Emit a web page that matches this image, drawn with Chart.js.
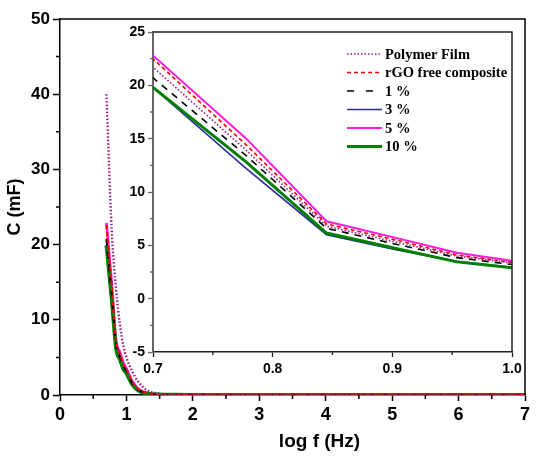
<!DOCTYPE html>
<html><head><meta charset="utf-8">
<script src="https://cdn.jsdelivr.net/npm/chart.js@4.4.1/dist/chart.umd.min.js"></script>
<style>
html,body{margin:0;padding:0;background:#fff;}
#wrap{position:relative;width:550px;height:460px;overflow:hidden;}
#main{position:absolute;left:0;top:0;}
#inset{position:absolute;left:120px;top:20px;}
</style></head><body>
<div id="wrap"><canvas id="main" width="550" height="460"></canvas><canvas id="inset" width="420" height="355"></canvas></div>
<script>
// ---- data ----
const logF = [0.699, 0.778, 0.845, 0.903, 0.954, 1.0, 1.079, 1.176, 1.301, 1.477, 1.699, 2, 3, 4, 5, 6, 7];
const polymerFilm      = [40, 22, 14, 9.3, 6.5, 5.0, 3.3, 1.8, 0.7, 0.2, 0.06, 0.03, 0.01, 0.01, 0.01, 0.01, 0.01];
const polymerFilmInset = [21.8, 13.9, 6.8, 5.3, 4.0, 3.35];
const rgoFree   = [22.6, 14.4, 7.0, 5.5, 4.1, 3.4, 1.9, 0.8, 0.3, 0.1, 0.05, 0.02, 0.01, 0.01, 0.01, 0.01, 0.01];
const pct1      = [20.8, 13.4, 6.6, 5.1, 3.85, 3.2, 1.7, 0.7, 0.25, 0.1, 0.04, 0.02, 0.01, 0.01, 0.01, 0.01, 0.01];
const pct3      = [19.9, 12.2, 6.0, 4.6, 3.5, 2.95, 1.5, 0.6, 0.2, 0.08, 0.04, 0.02, 0.01, 0.01, 0.01, 0.01, 0.01];
const pct5      = [22.9, 15.0, 7.26, 5.7, 4.3, 3.55, 2.0, 0.85, 0.3, 0.1, 0.05, 0.02, 0.01, 0.01, 0.01, 0.01, 0.01];
const pct10     = [19.9, 12.8, 6.15, 4.7, 3.45, 2.9, 1.5, 0.6, 0.2, 0.08, 0.04, 0.02, 0.01, 0.01, 0.01, 0.01, 0.01];
const seriesLabels = ['Polymer Film', 'rGO free composite', '1 %', '3 %', '5 %', '10 %'];

const mainXTicks = [0, 1, 2, 3, 4, 5, 6, 7];
const mainYTicks = [0, 10, 20, 30, 40, 50];
const mainXMinor = [0.5, 1.5, 2.5, 3.5, 4.5, 5.5, 6.5];
const mainYMinor = [5, 15, 25, 35, 45];
const insetXTicks = [0.7, 0.8, 0.9, 1.0];
const insetYTicks = [-5, 0, 5, 10, 15, 20, 25];
const insetXMinor = [0.75, 0.85, 0.95];
const insetYMinor = [-2.5, 2.5, 7.5, 12.5, 17.5, 22.5];
const insetCount = 6;

// ---- styles ----
const styles = [
  {color:'#9a1a80', dash:[1.5,2], w:1.6, wMain:2.4, order:0, legendDash:[1.5,2]},
  {color:'#ff0000', dash:[4,3],   w:1.6, wMain:2,   order:1, legendDash:[4,3]},
  {color:'#000000', dash:[7,6],   w:1.6, wMain:2,   order:2, legendDash:[7,12]},
  {color:'#2a2aa0', dash:[],      w:1.6, wMain:2,   order:4, legendDash:[]},
  {color:'#ff1adc', dash:[],      w:2,   wMain:2.6, order:5, legendDash:[]},
  {color:'#008000', dash:[],      w:3,   wMain:3.8, order:3, legendDash:[]}
];
const mainSeries = [polymerFilm, rgoFree, pct1, pct3, pct5, pct10];
const insetSeries = [polymerFilmInset, rgoFree.slice(0, insetCount), pct1.slice(0, insetCount),
                     pct3.slice(0, insetCount), pct5.slice(0, insetCount), pct10.slice(0, insetCount)];

const SANS = '"Liberation Sans", Arial, sans-serif';
const SERIF = '"Liberation Serif", "Times New Roman", serif';

function toPts(xs, ys){ return ys.map((v,i)=>({x:xs[i], y:v})); }

function decorPlugin(opts){
  return {
    id:'decor'+opts.name,
    afterDraw(chart){
      const ctx = chart.ctx, a = chart.chartArea, sx = chart.scales.x, sy = chart.scales.y;
      ctx.save();
      ctx.lineWidth = opts.frameWidth;
      ctx.strokeStyle = opts.frameColor;
      ctx.beginPath();
      ctx.moveTo(a.left, a.top); ctx.lineTo(a.right, a.top); ctx.lineTo(a.right, a.bottom);
      ctx.stroke();
      ctx.lineWidth = opts.tickWidth;
      ctx.strokeStyle = opts.xAxisColor;
      ctx.beginPath();
      opts.xMinor.forEach(v=>{ const p = sx.getPixelForValue(v); ctx.moveTo(p, a.bottom); ctx.lineTo(p, a.bottom + opts.minorLen); });
      ctx.stroke();
      ctx.strokeStyle = opts.yAxisColor;
      ctx.beginPath();
      opts.yMinor.forEach(v=>{ const p = sy.getPixelForValue(v); ctx.moveTo(a.left, p); ctx.lineTo(a.left - opts.minorLen, p); });
      ctx.stroke();
      if (opts.xTitle){
        ctx.fillStyle = '#000'; ctx.font = 'bold 19px ' + SANS;
        ctx.textAlign = 'center'; ctx.textBaseline = 'middle';
        ctx.fillText(opts.xTitle, (a.left + a.right)/2 + opts.xTitleDx, opts.xTitleY);
      }
      if (opts.legend){
        ctx.font = 'bold 14.5px ' + SERIF; ctx.textAlign = 'left'; ctx.textBaseline = 'middle';
        chart.data.datasets.forEach((ds, i)=>{
          const y = opts.legendY0 + i * opts.legendStep;
          ctx.strokeStyle = ds.borderColor; ctx.lineWidth = ds.borderWidth;
          ctx.setLineDash(styles[i].legendDash);
          ctx.beginPath(); ctx.moveTo(opts.legendX0, y); ctx.lineTo(opts.legendX0 + opts.legendLen, y); ctx.stroke();
          ctx.setLineDash([]);
          ctx.fillStyle = '#000';
          ctx.fillText(ds.label, opts.legendX0 + opts.legendLen + 3, y + 1);
        });
      }
      ctx.restore();
    }
  };
}

// ---- main chart ----
new Chart(document.getElementById('main'), {
  type:'line',
  data:{ datasets: mainSeries.map((s,i)=>({
    label: seriesLabels[i], data: toPts(logF, s), borderColor: styles[i].color,
    borderWidth: styles[i].wMain, borderDash: styles[i].dash, pointRadius:0, fill:false,
    cubicInterpolationMode:'monotone', order: styles[i].order
  }))},
  options:{
    responsive:false, animation:false, devicePixelRatio:1,
    layout:{padding:{left:0, right:25, top:19, bottom:0}},
    plugins:{legend:{display:false}, tooltip:{enabled:false}},
    scales:{
      x:{ type:'linear', min:0, max:7,
        afterBuildTicks: s=>{ s.ticks = mainXTicks.map(v=>({value:v})); },
        afterFit: s=>{ s.height = 65; },
        grid:{drawOnChartArea:false, drawTicks:true, tickLength:6, color:'#000', tickWidth:1.5},
        border:{display:true, color:'#000', width:1.5},
        ticks:{color:'#000', font:{family:SANS, weight:'bold', size:18}, padding:3, maxRotation:0, autoSkip:false}
      },
      y:{ type:'linear', min:0, max:50,
        afterBuildTicks: s=>{ s.ticks = mainYTicks.map(v=>({value:v})); },
        afterFit: s=>{ s.width = 60; },
        grid:{drawOnChartArea:false, drawTicks:true, tickLength:7, color:'#000', tickWidth:1.5},
        border:{display:true, color:'#000', width:1.5},
        ticks:{color:'#000', font:{family:SANS, weight:'bold', size:17}, padding:3, autoSkip:false},
        title:{display:true, text:'C (mF)', color:'#000', font:{family:SANS, weight:'bold', size:18}, padding:{top:4, bottom:0}}
      }
    }
  },
  plugins:[decorPlugin({name:'m', frameColor:'#000', xAxisColor:'#000', yAxisColor:'#000', frameWidth:1.5, tickWidth:1.5, minorLen:4,
    xMinor:mainXMinor, yMinor:mainYMinor, xTitle:'log f (Hz)', xTitleDx:27, xTitleY:442})]
});

// ---- inset chart ----
new Chart(document.getElementById('inset'), {
  type:'line',
  data:{ datasets: insetSeries.map((s,i)=>({
    label: seriesLabels[i], data: toPts(logF, s), borderColor: styles[i].color,
    borderWidth: styles[i].w, borderDash: styles[i].dash, pointRadius:0, fill:false,
    tension:0, order: styles[i].order
  }))},
  options:{
    responsive:false, animation:false, devicePixelRatio:1,
    layout:{padding:{left:0, right:28, top:12, bottom:0}},
    plugins:{legend:{display:false}, tooltip:{enabled:false}},
    scales:{
      x:{ type:'linear', min:0.7, max:1.0,
        afterBuildTicks: s=>{ s.ticks = insetXTicks.map(v=>({value:v})); },
        afterFit: s=>{ s.height = 23; },
        grid:{drawOnChartArea:false, drawTicks:true, tickLength:5, color:'#222', tickWidth:1.3},
        border:{display:true, color:'#222', width:1.5},
        ticks:{color:'#000', font:{family:SANS, weight:'bold', size:14}, padding:4, maxRotation:0, autoSkip:false,
          callback: v=>Number(v).toFixed(1)}
      },
      y:{ type:'linear', min:-5, max:25,
        afterBuildTicks: s=>{ s.ticks = insetYTicks.map(v=>({value:v})); },
        afterFit: s=>{ s.width = 33; },
        grid:{drawOnChartArea:false, drawTicks:true, tickLength:5, color:'#666', tickWidth:1.3},
        border:{display:true, color:'#666', width:2},
        ticks:{color:'#000', font:{family:SANS, weight:'bold', size:14}, padding:3, autoSkip:false}
      }
    }
  },
  plugins:[decorPlugin({name:'i', frameColor:'#222', xAxisColor:'#222', yAxisColor:'#666', frameWidth:1.5, tickWidth:1.3, minorLen:3,
    xMinor:insetXMinor, yMinor:insetYMinor, legend:true, legendX0:227, legendLen:35, legendY0:34, legendStep:18.5})]
});
</script>
</body></html>
